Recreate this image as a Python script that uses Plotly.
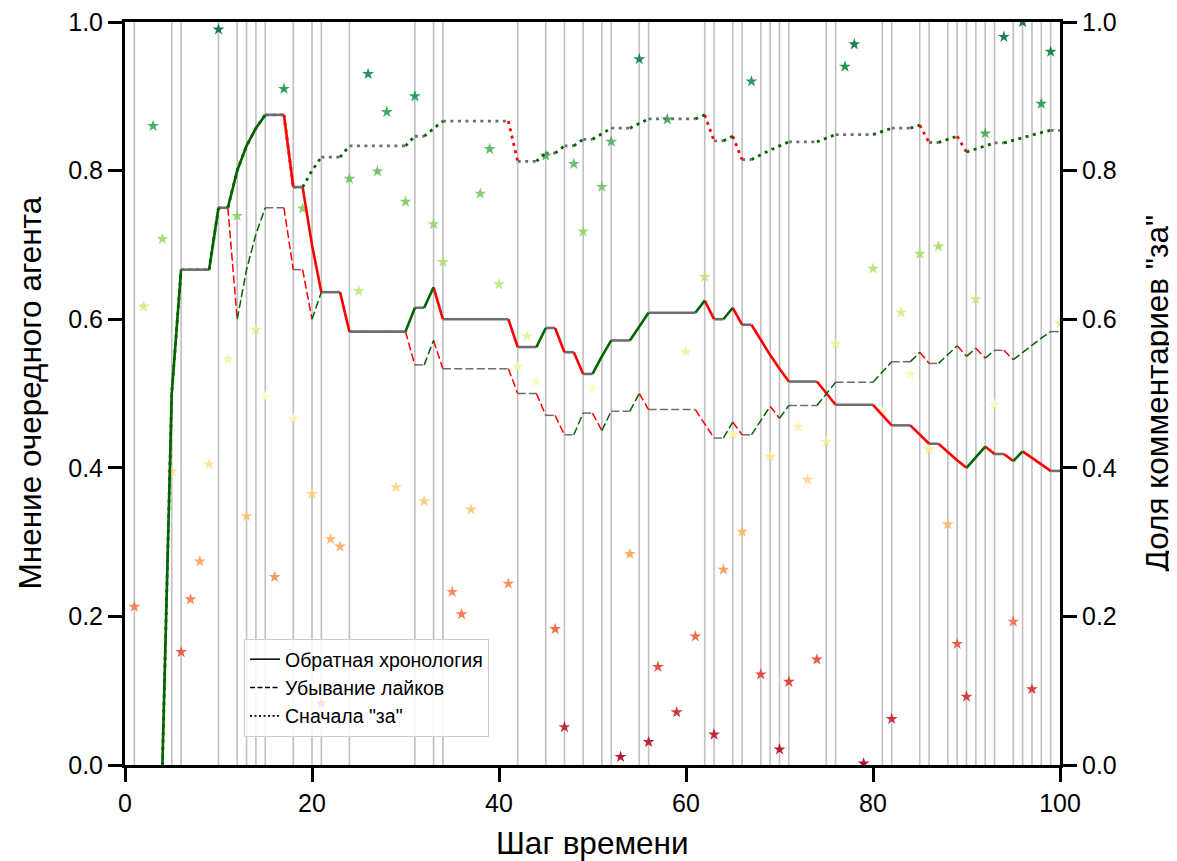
import plotly.graph_objects as go

# ---------------- data ----------------
steps = list(range(4, 101))

# solid: "Обратная хронология"
opinion_reverse = [
    0.0, 0.5, 0.6667, 0.6667, 0.6667, 0.6667, 0.75, 0.75, 0.8, 0.8333,        # 4-13
    0.8571, 0.875, 0.875, 0.875, 0.7778, 0.7778, 0.7, 0.6364, 0.6364, 0.6364,  # 14-23
    0.5833, 0.5833, 0.5833, 0.5833, 0.5833, 0.5833, 0.5833, 0.6154, 0.6154, 0.6429,  # 24-33
    0.6, 0.6, 0.6, 0.6, 0.6, 0.6, 0.6, 0.6, 0.5625, 0.5625,                    # 34-43
    0.5625, 0.5882, 0.5882, 0.5556, 0.5556, 0.5263, 0.5263, 0.55, 0.5714, 0.5714,  # 44-53
    0.5714, 0.5909, 0.6087, 0.6087, 0.6087, 0.6087, 0.6087, 0.6087, 0.625, 0.6,    # 54-63
    0.6, 0.6154, 0.5926, 0.5926, 0.5714, 0.5517, 0.5333, 0.5161, 0.5161, 0.5161,  # 64-73
    0.5161, 0.5, 0.4848, 0.4848, 0.4848, 0.4848, 0.4848, 0.4706, 0.4571, 0.4571,  # 74-83
    0.4571, 0.4444, 0.4324, 0.4324, 0.4211, 0.4103, 0.4, 0.4146, 0.4286, 0.4186,  # 84-93
    0.4186, 0.4091, 0.4222, 0.413, 0.4043, 0.3958, 0.3958,                       # 94-100
]

# dashed: "Убывание лайков"
opinion_likes = [
    0.0, 0.5, 0.6667, 0.6667, 0.6667, 0.6667, 0.75, 0.75, 0.6, 0.6667,          # 4-13
    0.7143, 0.75, 0.75, 0.75, 0.6667, 0.6667, 0.6, 0.6364, 0.6364, 0.6364,       # 14-23
    0.5833, 0.5833, 0.5833, 0.5833, 0.5833, 0.5833, 0.5833, 0.5385, 0.5385, 0.5714,  # 24-33
    0.5333, 0.5333, 0.5333, 0.5333, 0.5333, 0.5333, 0.5333, 0.5333, 0.5, 0.5,   # 34-43
    0.5, 0.4706, 0.4706, 0.4444, 0.4444, 0.4737, 0.4737, 0.45, 0.4762, 0.4762,  # 44-53
    0.4762, 0.5, 0.4783, 0.4783, 0.4783, 0.4783, 0.4783, 0.4783, 0.4583, 0.44,  # 54-63
    0.44, 0.4615, 0.4444, 0.4444, 0.4643, 0.4828, 0.4667, 0.4839, 0.4839, 0.4839,  # 64-73
    0.4839, 0.5, 0.5152, 0.5152, 0.5152, 0.5152, 0.5152, 0.5294, 0.5429, 0.5429,  # 74-83
    0.5429, 0.5556, 0.5405, 0.5405, 0.5526, 0.5641, 0.55, 0.561, 0.5476, 0.5581,  # 84-93
    0.5581, 0.5455, 0.5556, 0.5652, 0.5745, 0.5833, 0.5833,                     # 94-100
]

# dotted: 'Сначала "за"'
opinion_for_first = [
    0.0, 0.5, 0.6667, 0.6667, 0.6667, 0.6667, 0.75, 0.75, 0.8, 0.8333,          # 4-13
    0.8571, 0.875, 0.875, 0.875, 0.7778, 0.7778, 0.8, 0.8182, 0.8182, 0.8182,   # 14-23
    0.8333, 0.8333, 0.8333, 0.8333, 0.8333, 0.8333, 0.8333, 0.8462, 0.8462, 0.8571,  # 24-33
    0.8667, 0.8667, 0.8667, 0.8667, 0.8667, 0.8667, 0.8667, 0.8667, 0.8125, 0.8125,  # 34-43
    0.8125, 0.8235, 0.8235, 0.8333, 0.8333, 0.8421, 0.8421, 0.85, 0.8571, 0.8571,  # 44-53
    0.8571, 0.8636, 0.8696, 0.8696, 0.8696, 0.8696, 0.8696, 0.8696, 0.875, 0.84,   # 54-63
    0.84, 0.8462, 0.8148, 0.8148, 0.8214, 0.8276, 0.8333, 0.8387, 0.8387, 0.8387,  # 64-73
    0.8387, 0.8438, 0.8485, 0.8485, 0.8485, 0.8485, 0.8485, 0.8529, 0.8571, 0.8571,  # 74-83
    0.8571, 0.8611, 0.8378, 0.8378, 0.8421, 0.8462, 0.825, 0.8293, 0.8333, 0.8372,  # 84-93
    0.8372, 0.8409, 0.8444, 0.8478, 0.8511, 0.8542, 0.8542,                      # 94-100
]

star_steps = list(range(1, 101))
star_values = [
    0.213, 0.617, 0.86, 0.708, 0.395, 0.152, 0.223, 0.274, 0.405, 0.99,
    0.546, 0.739, 0.335, 0.586, 0.496, 0.253, 0.91, 0.466, 0.749, 0.365,
    0.083, 0.304, 0.294, 0.789, 0.638, 0.93, 0.799, 0.879, 0.374, 0.758,
    0.90, 0.355, 0.728, 0.677, 0.233, 0.203, 0.344, 0.769, 0.829, 0.647,
    0.244, 0.536, 0.577, 0.516, 0.82, 0.183, 0.051, 0.809, 0.718, 0.506,
    0.778, 0.839, 0.011, 0.284, 0.95, 0.031, 0.132, 0.869, 0.071, 0.556,
    0.173, 0.657, 0.041, 0.263, 0.445, 0.314, 0.92, 0.122, 0.415, 0.021,
    0.112, 0.455, 0.384, 0.142, 0.435, 0.567, 0.94, 0.97, 0.002, 0.668,
    0.475, 0.062, 0.609, 0.526, 0.688, 0.425, 0.698, 0.324, 0.163, 0.092,
    0.627, 0.85, 0.485, 0.98, 0.193, 1.0, 0.102, 0.89, 0.96, 0.595,
]

vline_steps = [1, 5, 6, 10, 12, 13, 14, 15, 18, 20, 21, 24, 31, 33, 34, 42, 45, 47,
               49, 51, 52, 55, 56, 62, 63, 65, 66, 68, 69, 70, 71, 75, 76, 81, 82,
               85, 86, 88, 89, 90, 91, 92, 93, 95, 96, 97, 98, 99]

legend_names = ["Обратная хронология", "Убывание лайков", 'Сначала "за"']
x_title = "Шаг времени"
y_left_title = "Мнение очередного агента"
y_right_title = 'Доля комментариев "за"'

# ---------------- styles ----------------
FONT = "Liberation Sans, Arial, sans-serif"
COL = {"up": "#006400", "down": "#ff0000", "flat": "#6e6e6e"}
STYLES = [
    dict(width=2.6, dash="solid"),
    dict(width=1.5, dash="8px,3.3px"),
    dict(width=2.8, dash="3px,4.5px"),
]

fig = go.Figure()

# vertical guide lines
vx, vy = [], []
for s in vline_steps:
    vx += [s, s, None]
    vy += [0, 1, None]
fig.add_trace(go.Scatter(x=vx, y=vy, mode="lines", line=dict(color="#c0c0c0", width=1.6),
                         hoverinfo="skip", showlegend=False))


def runs_by_direction(xs, ys):
    runs = []
    for i in range(len(xs) - 1):
        d = ys[i + 1] - ys[i]
        kind = "up" if d > 1e-9 else ("down" if d < -1e-9 else "flat")
        if runs and runs[-1][0] == kind and runs[-1][1][-1] == xs[i]:
            runs[-1][1].append(xs[i + 1])
            runs[-1][2].append(ys[i + 1])
        else:
            runs.append([kind, [xs[i], xs[i + 1]], [ys[i], ys[i + 1]]])
    return runs


for series, style in zip([opinion_reverse, opinion_likes, opinion_for_first], STYLES):
    runs = runs_by_direction(steps, series)
    for kind in ["flat", "down", "up"]:
        X, Y = [], []
        for k, xs, ys in runs:
            if k == kind:
                X += xs + [None]
                Y += ys + [None]
        fig.add_trace(go.Scatter(x=X, y=Y, mode="lines",
                                 line=dict(color=COL[kind], width=style["width"], dash=style["dash"]),
                                 hoverinfo="skip", showlegend=False, yaxis="y2"))

# stars
fig.add_trace(go.Scatter(
    x=star_steps, y=star_values, mode="markers",
    marker=dict(symbol="star", size=9, color=star_values, colorscale="RdYlGn",
                cmin=0, cmax=1, opacity=0.9, line=dict(width=0)),
    showlegend=False, hoverinfo="skip"))

# legend entries
for name, style in zip(legend_names, [dict(width=1.5, dash="solid"),
                                      dict(width=1.5, dash="5px,2.5px"),
                                      dict(width=1.8, dash="2px,2.5px")]):
    fig.add_trace(go.Scatter(x=[None], y=[None], mode="lines", name=name,
                             line=dict(color="black", width=style["width"], dash=style["dash"])))

axis_common = dict(showline=True, linecolor="black", linewidth=3, ticks="outside",
                   tickcolor="black", tickwidth=3, ticklen=14, showgrid=False, zeroline=False,
                   automargin=False, ticklabeloverflow="allow",
                   tickfont=dict(family=FONT, size=25, color="black"))

TITLE_SIZE = 31.5

fig.update_layout(
    width=1169, height=853,
    margin=dict(l=117, r=117, t=14, b=96),
    paper_bgcolor="white", plot_bgcolor="white",
    font=dict(family=FONT, color="black"),
    xaxis=dict(range=[0, 100], tickvals=[0, 20, 40, 60, 80, 100], mirror=True, **axis_common),
    yaxis=dict(range=[0, 1], tickvals=[0, 0.2, 0.4, 0.6, 0.8, 1.0], tickformat=".1f",
               **axis_common),
    yaxis2=dict(range=[0, 1], tickvals=[0, 0.2, 0.4, 0.6, 0.8, 1.0], tickformat=".1f",
                overlaying="y", side="right", **axis_common),
    legend=dict(x=0.1273, y=0.1696, xanchor="left", yanchor="top",
                bgcolor="rgba(255,255,255,0.85)", bordercolor="#cccccc", borderwidth=1,
                font=dict(family=FONT, size=19.5, color="black"), itemwidth=30,
                tracegroupgap=0),
    showlegend=True,
    annotations=[
        dict(text=x_title, xref="paper", yref="paper", x=0.5, y=0, xanchor="center",
             yanchor="middle", yshift=-78, showarrow=False,
             font=dict(family=FONT, size=TITLE_SIZE, color="black")),
        dict(text=y_left_title, xref="paper", yref="paper", x=0, y=0.5, xanchor="center",
             yanchor="middle", xshift=-96, textangle=-90, showarrow=False,
             font=dict(family=FONT, size=TITLE_SIZE, color="black")),
        dict(text=y_right_title, xref="paper", yref="paper", x=1, y=0.5, xanchor="center",
             yanchor="middle", xshift=96, textangle=-90, showarrow=False,
             font=dict(family=FONT, size=TITLE_SIZE, color="black")),
    ],
)

fig.write_html("out.html")
